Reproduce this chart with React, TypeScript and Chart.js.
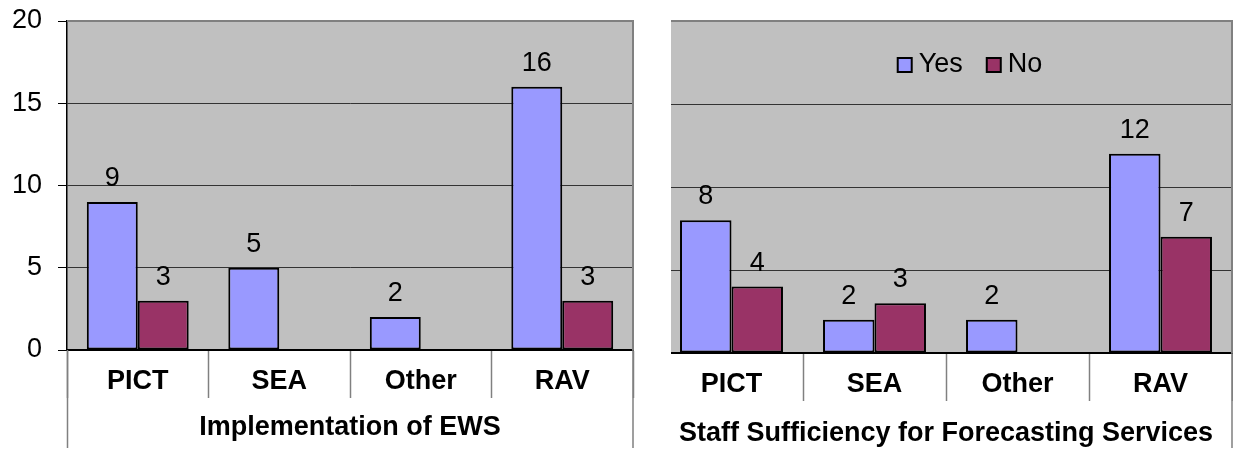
import React, { useEffect, useRef } from 'react';
import { Chart, registerables } from 'chart.js';

Chart.register(...registerables);

// ---- data ----
const categories = ['PICT', 'SEA', 'Other', 'RAV'];
const seriesNames = ['Yes', 'No'];
const ewsYes = [9, 5, 2, 16];
const ewsNo = [3, null, null, 3];
const staffYes = [8, 2, 2, 12];
const staffNo = [4, 3, null, 7];
const yTicks = [0, 5, 10, 15, 20];
const titleLeft = 'Implementation of EWS';
const titleRight = 'Staff Sufficiency for Forecasting Services';

const FONT = "'Liberation Sans', Arial, sans-serif";
const BLUE = '#9999FF';
const MAROON = '#993366';

const plotFrame = {
  id: 'plotFrame',
  beforeDraw(chart: any) {
    const { ctx, chartArea: a } = chart;
    ctx.save();
    ctx.fillStyle = '#C0C0C0';
    ctx.fillRect(a.left, a.top, a.right - a.left, a.bottom - a.top);
    ctx.restore();
  },
  beforeDatasetsDraw(chart: any) {
    const { ctx, chartArea: a, height } = chart;
    ctx.save();
    ctx.strokeStyle = '#808080';
    ctx.lineWidth = 2;
    ctx.beginPath();
    ctx.moveTo(a.left, a.top);
    ctx.lineTo(a.right, a.top);
    ctx.lineTo(a.right, a.bottom);
    ctx.stroke();
    ctx.lineWidth = 1.5;
    ctx.beginPath();
    ctx.moveTo(a.left + 0.5, a.bottom);
    ctx.lineTo(a.left + 0.5, height - 3);
    ctx.moveTo(a.right, a.bottom);
    ctx.lineTo(a.right, height - 3);
    ctx.stroke();
    ctx.restore();
  },
};

const barLabels = {
  id: 'barLabels',
  afterDatasetsDraw(chart: any) {
    const { ctx } = chart;
    ctx.save();
    ctx.font = `27px ${FONT}`;
    ctx.fillStyle = '#000';
    ctx.textAlign = 'center';
    ctx.textBaseline = 'alphabetic';
    chart.data.datasets.forEach((ds: any, i: number) => {
      const meta = chart.getDatasetMeta(i);
      meta.data.forEach((el: any, j: number) => {
        const v = ds.data[j];
        if (v == null) return;
        ctx.fillText(String(v), el.x, el.y - 16);
      });
    });
    ctx.restore();
  },
};

const insideLegend = {
  id: 'insideLegend',
  afterDatasetsDraw(chart: any) {
    const { ctx, chartArea: a } = chart;
    ctx.save();
    ctx.font = `27px ${FONT}`;
    const box = 14;
    const textGap = 7;
    const itemGap = 24;
    const items = chart.data.datasets.map((ds: any) => ({
      text: ds.label,
      color: ds.backgroundColor,
      w: ctx.measureText(ds.label).width,
    }));
    const total =
      items.reduce((s: number, it: any) => s + box + textGap + it.w, 0) +
      itemGap * (items.length - 1);
    let x = (a.left + a.right) / 2 + 24 - total / 2;
    const y = a.top + 44;
    items.forEach((it: any) => {
      ctx.fillStyle = it.color;
      ctx.fillRect(x, y - box / 2, box, box);
      ctx.strokeStyle = '#000';
      ctx.lineWidth = 2;
      ctx.strokeRect(x, y - box / 2, box, box);
      ctx.fillStyle = '#000';
      ctx.textAlign = 'left';
      ctx.textBaseline = 'middle';
      ctx.fillText(it.text, x + box + textGap, y);
      x += box + textGap + it.w + itemGap;
    });
    ctx.restore();
  },
};

function makeConfig(p: {
  yes: (number | null)[];
  no: (number | null)[];
  title: string;
  showYLabels: boolean;
  yWidth: number;
  padRight: number;
  xHeight: number;
  labelOffset: number;
  titlePadBottom: number;
  legend: boolean;
}): any {
  const ds = (label: string, data: (number | null)[], color: string) => ({
    label,
    data,
    backgroundColor: color,
    borderColor: '#000',
    borderWidth: 2,
    borderSkipped: false,
    categoryPercentage: 0.72,
    barPercentage: 1,
  });
  const tickLen = 48;
  return {
    type: 'bar',
    data: {
      labels: categories,
      datasets: [ds(seriesNames[0], p.yes, BLUE), ds(seriesNames[1], p.no, MAROON)],
    },
    options: {
      responsive: false,
      animation: false,
      layout: { padding: { left: 0, right: p.padRight, top: 21, bottom: 0 } },
      plugins: { legend: { display: false }, tooltip: { enabled: false } },
      scales: {
        x: {
          offset: true,
          grid: {
            offset: true,
            drawOnChartArea: false,
            drawTicks: true,
            tickLength: tickLen,
            color: '#808080',
            tickColor: '#808080',
            tickWidth: 1.5,
          },
          border: { display: true, color: '#000', width: 2 },
          ticks: {
            padding: p.labelOffset - tickLen,
            color: '#000',
            font: { family: FONT, size: 27, weight: 'bold' },
            maxRotation: 0,
            autoSkip: false,
          },
          title: {
            display: true,
            text: p.title,
            color: '#000',
            font: { family: FONT, size: 27, weight: 'bold', lineHeight: 1.2 },
            padding: { top: 0, bottom: p.titlePadBottom },
          },
          afterFit: (s: any) => {
            s.height = p.xHeight;
            s.paddingLeft = 0;
            s.paddingRight = 0;
          },
        },
        y: {
          min: yTicks[0],
          max: yTicks[yTicks.length - 1],
          afterBuildTicks: (s: any) => {
            s.ticks = yTicks.map((v) => ({ value: v }));
          },
          ticks: {
            display: p.showYLabels,
            padding: 16,
            color: '#000',
            font: { family: FONT, size: 27 },
          },
          grid: {
            color: (c: any) =>
              c.tick && (c.tick.value === 0 || c.tick.value === 20) ? 'rgba(0,0,0,0)' : '#333',
            tickColor: '#000',
            drawTicks: p.showYLabels,
            tickLength: 9,
            lineWidth: 1,
          },
          border: { display: p.showYLabels, color: '#000', width: 1.5 },
          afterFit: (s: any) => {
            s.width = p.yWidth;
            s.paddingTop = 0;
            s.paddingBottom = 0;
          },
        },
      },
    },
    plugins: p.legend ? [plotFrame, barLabels, insideLegend] : [plotFrame, barLabels],
  };
}

export default function App() {
  const leftRef = useRef<HTMLCanvasElement>(null);
  const rightRef = useRef<HTMLCanvasElement>(null);

  useEffect(() => {
    const c1 = new Chart(
      leftRef.current as HTMLCanvasElement,
      makeConfig({
        yes: ewsYes,
        no: ewsNo,
        title: titleLeft,
        showYLabels: true,
        yWidth: 67,
        padRight: 12,
        xHeight: 101,
        labelOffset: 15.3,
        titlePadBottom: 7.3,
        legend: false,
      })
    );
    const c2 = new Chart(
      rightRef.current as HTMLCanvasElement,
      makeConfig({
        yes: staffYes,
        no: staffNo,
        title: titleRight,
        showYLabels: false,
        yWidth: 10,
        padRight: 1,
        xHeight: 98,
        labelOffset: 15.8,
        titlePadBottom: 1.5,
        legend: true,
      })
    );
    return () => {
      c1.destroy();
      c2.destroy();
    };
  }, []);

  return (
    <div
      style={{
        position: 'fixed',
        left: 0,
        top: 0,
        width: 1233,
        height: 451,
        background: '#fff',
        overflow: 'hidden',
      }}
    >
      <canvas
        ref={leftRef}
        width={645}
        height={451}
        style={{ position: 'absolute', left: 0, top: 0, width: 645, height: 451 }}
      />
      <div
        style={{
          position: 'absolute',
          left: 671,
          top: 0,
          width: 562,
          height: 451,
          overflow: 'hidden',
        }}
      >
        <canvas
          ref={rightRef}
          width={583}
          height={451}
          style={{ position: 'absolute', left: -21, top: 0, width: 583, height: 451 }}
        />
      </div>
    </div>
  );
}
